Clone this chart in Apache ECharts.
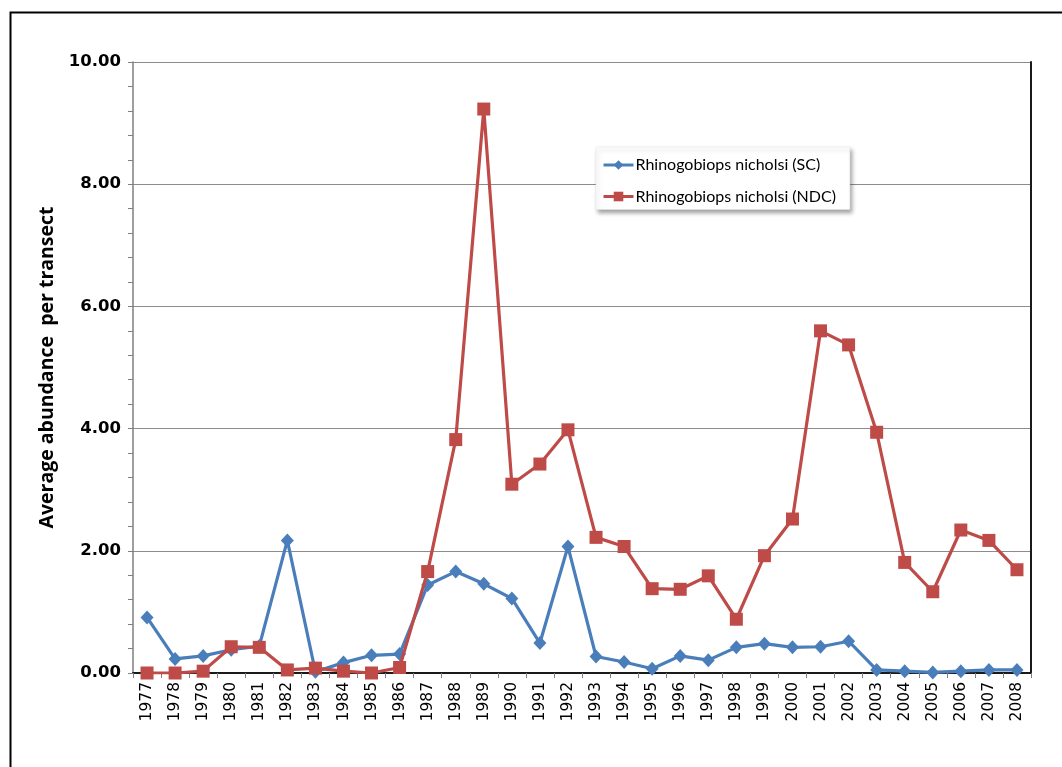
<!DOCTYPE html>
<html>
<head>
<meta charset="utf-8">
<script src="https://cdn.jsdelivr.net/npm/echarts@6/dist/echarts.min.js"></script>
<style>
  html, body { margin: 0; padding: 0; background: #fff; }
  #chart { width: 1062px; height: 767px; }
</style>
</head>
<body>
<div id="chart"></div>
<script>
// Survey years
const years = ['1977','1978','1979','1980','1981','1982','1983','1984','1985','1986',
  '1987','1988','1989','1990','1991','1992','1993','1994','1995','1996',
  '1997','1998','1999','2000','2001','2002','2003','2004','2005','2006','2007','2008'];

// Average abundance per transect, SC sites
const scValues = [0.91, 0.23, 0.28, 0.38, 0.44, 2.17, 0.02, 0.17, 0.29, 0.31,
  1.44, 1.66, 1.46, 1.22, 0.49, 2.07, 0.27, 0.18, 0.07, 0.28,
  0.21, 0.42, 0.48, 0.42, 0.43, 0.52, 0.05, 0.03, 0.01, 0.03, 0.05, 0.05];

// Average abundance per transect, NDC sites
const ndcValues = [0.00, 0.00, 0.03, 0.43, 0.42, 0.05, 0.08, 0.03, 0.00, 0.09,
  1.66, 3.82, 9.23, 3.09, 3.42, 3.98, 2.22, 2.07, 1.38, 1.37,
  1.59, 0.88, 1.92, 2.52, 5.60, 5.37, 3.94, 1.81, 1.33, 2.34, 2.17, 1.69];

const seriesNames = ['Rhinogobiops nicholsi (SC)', 'Rhinogobiops nicholsi (NDC)'];
const yTitle = 'Average abundance  per transect';

const chart = echarts.init(document.getElementById('chart'), null, { renderer: 'canvas' });

const axisGray = '#7f7f7f';
const frameDark = '#1a1a1a';

chart.setOption({
  animation: false,
  backgroundColor: '#ffffff',
  graphic: [{
    type: 'rect',
    shape: { x: 10.5, y: 12.5, width: 1200, height: 900 },
    style: { fill: 'none', stroke: '#000', lineWidth: 2 },
    silent: true
  }],
  grid: { left: 133, right: 31, top: 62, bottom: 94 },
  legend: {
    orient: 'vertical',
    left: 596, top: 147,
    width: 256,
    padding: [10, 14, 5, 6],
    itemGap: 15.5,
    itemWidth: 30, itemHeight: 12,
    lineStyle: { width: 3 },
    backgroundColor: '#ffffff',
    borderColor: '#e4e4e4', borderWidth: 0.5,
    shadowColor: 'rgba(0,0,0,0.35)', shadowBlur: 4, shadowOffsetX: 2, shadowOffsetY: 3,
    textStyle: { fontFamily: 'Lato', fontSize: 16, color: '#000', padding: [0, 0, 0, -3] },
    data: seriesNames
  },
  xAxis: [{
    type: 'category',
    data: years,
    boundaryGap: true,
    axisLine: { lineStyle: { color: axisGray, width: 1.5 } },
    axisTick: { show: true, alignWithLabel: false, length: 5, lineStyle: { color: axisGray } },
    axisLabel: {
      rotate: 90, margin: 9, interval: 0,
      fontFamily: 'DejaVu Sans', fontSize: 15.5, color: '#000'
    },
    splitLine: { show: false }
  }, {
    type: 'category',
    data: years,
    position: 'top',
    axisLine: { show: true, lineStyle: { color: frameDark, width: 2 } },
    axisTick: { show: false },
    axisLabel: { show: false },
    splitLine: { show: false }
  }],
  yAxis: [{
    type: 'value',
    min: 0, max: 10, interval: 2,
    name: yTitle,
    nameLocation: 'middle',
    nameGap: 71,
    nameRotate: 90,
    nameTextStyle: { fontFamily: 'Open Sans', fontWeight: 'bold', fontSize: 19.5, color: '#000' },
    axisLine: { show: true, lineStyle: { color: axisGray, width: 1.5 } },
    axisTick: { show: true, length: 5, lineStyle: { color: axisGray } },
    minorTick: { show: true, splitNumber: 5, length: 5, lineStyle: { color: axisGray } },
    axisLabel: {
      margin: 12,
      fontFamily: 'DejaVu Sans', fontWeight: 'bold', fontSize: 16.5, color: '#000',
      formatter: v => v.toFixed(2)
    },
    splitLine: { show: true, lineStyle: { color: '#8c8c8c', width: 1 } }
  }, {
    type: 'value',
    min: 0, max: 10, interval: 2,
    position: 'right',
    axisLine: { show: true, lineStyle: { color: frameDark, width: 2 } },
    axisTick: { show: false },
    axisLabel: { show: false },
    splitLine: { show: false }
  }],
  series: [{
    name: seriesNames[0],
    type: 'line',
    data: scValues,
    symbol: 'diamond',
    symbolSize: [13, 14],
    lineStyle: { color: '#4a7ebb', width: 3.2 },
    itemStyle: { color: '#4a7ebb' },
    z: 3
  }, {
    name: seriesNames[1],
    type: 'line',
    data: ndcValues,
    symbol: 'rect',
    symbolSize: 13,
    lineStyle: { color: '#be4b48', width: 3.2 },
    itemStyle: { color: '#be4b48' },
    z: 4
  }]
});
</script>
</body>
</html>
